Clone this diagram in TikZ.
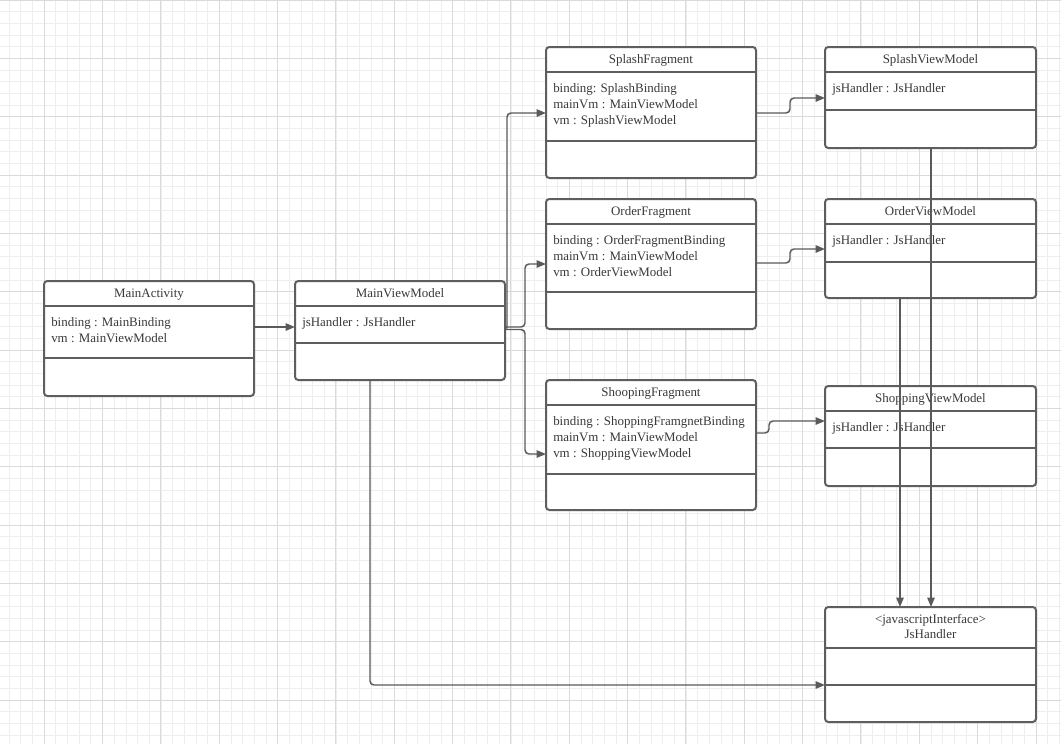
\documentclass[tikz,border=0pt]{standalone}
\usepackage{fontspec}
\setmainfont{Liberation Serif}
\usetikzlibrary{arrows.meta}
\definecolor{gridminor}{HTML}{EEEEEE}
\definecolor{gridmajor}{HTML}{DADADA}
\definecolor{boxline}{HTML}{5E5E5E}
\definecolor{txt}{HTML}{383838}
\definecolor{wire}{HTML}{5A5A5A}
\begin{document}
\begin{tikzpicture}[x=0.75pt,y=-0.75pt,
  cls/.style={draw=boxline, line width=1.5pt, rounded corners=2.5pt, fill=white, anchor=north west, inner sep=0pt, outer sep=0pt},
  title/.style={text=txt, font=\fontsize{9.7}{11.5}\selectfont, inner sep=0pt, align=center, anchor=base},
  attrs/.style={text=txt, font=\fontsize{9.7}{12}\selectfont, inner sep=0pt, align=left, anchor=north west},
  sepline/.style={draw=boxline, line width=1.5pt},
  conn/.style={draw=wire, line width=1.1pt, rounded corners=3pt, -{Triangle[length=7pt,width=5.5pt]}},
]
\useasboundingbox (0,0) rectangle (1061,744);
\fill[white] (0,0) rectangle (1061,744);
% grid
\foreach \i in {-3,...,87}{\draw[gridminor, line width=0.75pt] ({44.33+11.667*\i},0) -- ({44.33+11.667*\i},744);}
\foreach \j in {0,...,64}{\draw[gridminor, line width=0.75pt] (0,{11.667*\j}) -- (1061,{11.667*\j});}
\foreach \i in {0,...,17}{\draw[gridmajor, line width=0.75pt] ({44.33+58.333*\i},0) -- ({44.33+58.333*\i},744);}
\foreach \j in {0,...,12}{\draw[gridmajor, line width=0.75pt] (0,{58.333*\j}) -- (1061,{58.333*\j});}

% ---- boxes ----
% MainActivity
\node[cls, minimum width=210*0.75pt, minimum height=115*0.75pt] (ma) at (44,281) {};
\draw[sepline] (ma.west |- 0,306) -- (ma.east |- 0,306);
\draw[sepline] (ma.west |- 0,358) -- (ma.east |- 0,358);
\node[title] (maT) at (149,297) {MainActivity};
\node[attrs] (maA) at (51,317.5) {binding : MainBinding\\vm : MainViewModel};

% MainViewModel
\node[cls, minimum width=210*0.75pt, minimum height=99*0.75pt] (mvm) at (295,281) {};
\draw[sepline] (mvm.west |- 0,306) -- (mvm.east |- 0,306);
\draw[sepline] (mvm.west |- 0,343) -- (mvm.east |- 0,343);
\node[title] (mvmT) at (400,297) {MainViewModel};
\node[attrs] (mvmA) at (302,317.5) {jsHandler : JsHandler};

% SplashFragment
\node[cls, minimum width=210*0.75pt, minimum height=131*0.75pt] (sf) at (546,47) {};
\draw[sepline] (sf.west |- 0,72) -- (sf.east |- 0,72);
\draw[sepline] (sf.west |- 0,141) -- (sf.east |- 0,141);
\node[title] (sfT) at (651,63) {SplashFragment};
\node[attrs] (sfA) at (553,83.5) {binding: SplashBinding\\mainVm : MainViewModel\\vm : SplashViewModel};

% SplashViewModel
\node[cls, minimum width=211*0.75pt, minimum height=101*0.75pt] (svm) at (825,47) {};
\draw[sepline] (svm.west |- 0,72) -- (svm.east |- 0,72);
\draw[sepline] (svm.west |- 0,110) -- (svm.east |- 0,110);
\node[title] (svmT) at (930.5,63) {SplashViewModel};
\node[attrs] (svmA) at (832,83.5) {jsHandler : JsHandler};

% OrderFragment
\node[cls, minimum width=210*0.75pt, minimum height=130*0.75pt] (of) at (546,199) {};
\draw[sepline] (of.west |- 0,224) -- (of.east |- 0,224);
\draw[sepline] (of.west |- 0,292) -- (of.east |- 0,292);
\node[title] (ofT) at (651,215) {OrderFragment};
\node[attrs] (ofA) at (553,235.5) {binding : OrderFragmentBinding\\mainVm : MainViewModel\\vm : OrderViewModel};

% OrderViewModel
\node[cls, minimum width=211*0.75pt, minimum height=99*0.75pt] (ovm) at (825,199) {};
\draw[sepline] (ovm.west |- 0,224) -- (ovm.east |- 0,224);
\draw[sepline] (ovm.west |- 0,262) -- (ovm.east |- 0,262);
\node[title] (ovmT) at (930.5,215) {OrderViewModel};
\node[attrs] (ovmA) at (832,235.5) {jsHandler : JsHandler};

% ShoopingFragment
\node[cls, minimum width=210*0.75pt, minimum height=130*0.75pt] (shf) at (546,380) {};
\draw[sepline] (shf.west |- 0,405) -- (shf.east |- 0,405);
\draw[sepline] (shf.west |- 0,474) -- (shf.east |- 0,474);
\node[title] (shfT) at (651,396) {ShoopingFragment};
\node[attrs] (shfA) at (553,416.5) {binding : ShoppingFramgnetBinding\\mainVm : MainViewModel\\vm : ShoppingViewModel};

% ShoppingViewModel
\node[cls, minimum width=211*0.75pt, minimum height=100*0.75pt] (shvm) at (825,386) {};
\draw[sepline] (shvm.west |- 0,411) -- (shvm.east |- 0,411);
\draw[sepline] (shvm.west |- 0,448) -- (shvm.east |- 0,448);
\node[title] (shvmT) at (930.5,402) {ShoppingViewModel};
\node[attrs] (shvmA) at (832,422.5) {jsHandler : JsHandler};

% JsHandler
\node[cls, minimum width=211*0.75pt, minimum height=115*0.75pt] (jh) at (825,607) {};
\draw[sepline] (jh.west |- 0,648) -- (jh.east |- 0,648);
\draw[sepline] (jh.west |- 0,685) -- (jh.east |- 0,685);
\node[title] (jhT) at (930.5,638.5) {<javascriptInterface>\\JsHandler};

% ---- connectors ----
\coordinate (kSplash) at (507,113);
\coordinate (kOrder) at (525,264);
\coordinate (kShop) at (525,454);
\coordinate (kSv) at (790,98);
\coordinate (kOv) at (790,249);
\coordinate (kShv) at (769,421);
\coordinate (kJ1) at (931,0);
\coordinate (kJ2) at (900,0);
\coordinate (kMv) at (370,685);

\draw[conn] (ma.east |- 0,327) -- (mvm.west |- 0,327);
\draw[conn, sharp corners] (mvm.east |- 0,328) -- (kSplash |- 0,328) [rounded corners=3pt] -- (kSplash) -- (sf.west |- kSplash);
\draw[conn] (mvm.east |- 0,327) -- (kOrder |- 0,327) -- (kOrder) -- (of.west |- kOrder);
\draw[conn] (mvm.east |- 0,329.5) -- (kShop |- 0,329.5) -- (kShop) -- (shf.west |- kShop);
\draw[conn] (sf.east |- 0,113) -- (kSv |- 0,113) -- (kSv) -- (svm.west |- kSv);
\draw[conn] (of.east |- 0,263) -- (kOv |- 0,263) -- (kOv) -- (ovm.west |- kOv);
\draw[conn] (shf.east |- 0,433) -- (kShv |- 0,433) -- (kShv) -- (shvm.west |- kShv);
\draw[conn] (svm.south -| kJ1) -- (jh.north -| kJ1);
\draw[conn] (ovm.south -| kJ2) -- (jh.north -| kJ2);
\draw[conn] (mvm.south -| kMv) -- (kMv) -- (jh.west |- kMv);
\end{tikzpicture}
\end{document}
